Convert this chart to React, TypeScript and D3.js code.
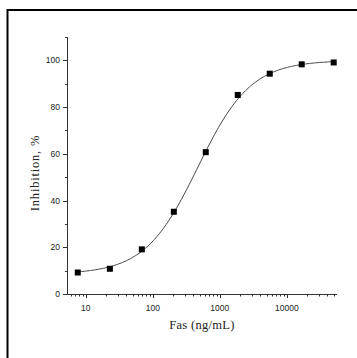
import React, { useRef, useEffect } from "react";
import * as d3 from "d3";

// Fas concentrations (ng/mL), 3-fold dilutions
const concentrations = [7.6, 22.9, 68.6, 206, 617, 1852, 5556, 16667, 50000];
// Inhibition, %
const inhibition = [9.2, 10.8, 19.1, 35.2, 60.7, 85.2, 94.3, 98.3, 99.1];
const yTicks = [0, 20, 40, 60, 80, 100];
const xTicks = [10, 100, 1000, 10000];
// four-parameter logistic fit
const fit = { bottom: 8.5, top: 100, ic50: 470, hill: 1.1 };

const App: React.FC = () => {
    const svgRef = useRef<SVGSVGElement | null>(null);

    useEffect(() => {
        if (!svgRef.current) return;
        const width = 357;
        const height = 358;
        const left = 67, right = 337, top = 37, bottom = 294;

        const svg = d3.select(svgRef.current);
        svg.selectAll("*").remove();

        const x = d3.scaleLog().domain([5.25, 56000]).range([left, right]);
        const y = d3.scaleLinear().domain([0, 110]).range([bottom, top]);

        // frame (top and left edges)
        svg.append("path")
            .attr("d", `M7.5,${height} L7.5,10 L${width},10`)
            .attr("fill", "none")
            .attr("stroke", "#000")
            .attr("stroke-width", 2);

        const tickFont = "'Liberation Sans', Arial, sans-serif";
        const titleFont = "'Liberation Serif', 'Times New Roman', serif";

        // y axis
        const yAxis = svg.append("g").attr("stroke", "#333").attr("stroke-width", 1);
        yAxis.append("line")
            .attr("x1", left + 0.5).attr("x2", left + 0.5)
            .attr("y1", top).attr("y2", bottom + 0.5);
        d3.range(0, 111, 10).forEach(v => {
            const major = v % 20 === 0;
            yAxis.append("line")
                .attr("x1", left - (major ? 4 : 2)).attr("x2", left)
                .attr("y1", Math.round(y(v)) + 0.5).attr("y2", Math.round(y(v)) + 0.5);
        });
        svg.append("g").selectAll("text").data(yTicks).join("text")
            .attr("x", left - 7)
            .attr("y", d => y(d) + 3)
            .attr("text-anchor", "end")
            .attr("font-family", tickFont)
            .attr("font-size", 8.5)
            .attr("fill", "#222")
            .text(d => d);

        // x axis
        const xAxis = svg.append("g").attr("stroke", "#333").attr("stroke-width", 1);
        xAxis.append("line")
            .attr("x1", left).attr("x2", right)
            .attr("y1", bottom + 0.5).attr("y2", bottom + 0.5);
        const minor: number[] = [];
        for (let e = 0; e <= 4; e++) {
            for (let m = 1; m <= 9; m++) {
                const v = m * Math.pow(10, e);
                if (v >= 5.25 && v <= 56000) minor.push(v);
            }
        }
        minor.forEach(v => {
            const major = xTicks.includes(v);
            xAxis.append("line")
                .attr("x1", Math.round(x(v)) + 0.5).attr("x2", Math.round(x(v)) + 0.5)
                .attr("y1", bottom).attr("y2", bottom + (major ? 4 : 2.5));
        });
        svg.append("g").selectAll("text").data(xTicks).join("text")
            .attr("x", d => x(d))
            .attr("y", bottom + 17)
            .attr("text-anchor", "middle")
            .attr("font-family", tickFont)
            .attr("font-size", 8.5)
            .attr("fill", "#222")
            .text(d => d);

        // axis titles
        svg.append("text")
            .attr("x", 202)
            .attr("y", 329)
            .attr("text-anchor", "middle")
            .attr("font-family", titleFont)
            .attr("font-size", 12.5)
            .attr("letter-spacing", 0.3)
            .attr("fill", "#222")
            .text("Fas (ng/mL)");
        svg.append("text")
            .attr("transform", `translate(39,173) rotate(-90)`)
            .attr("text-anchor", "middle")
            .attr("font-family", titleFont)
            .attr("font-size", 12.5)
            .attr("letter-spacing", 0.8)
            .attr("fill", "#222")
            .text("Inhibition, %");

        // fitted curve
        const logistic = (c: number) =>
            fit.bottom + (fit.top - fit.bottom) / (1 + Math.pow(fit.ic50 / c, fit.hill));
        const [c0, c1] = d3.extent(concentrations) as [number, number];
        const curveX = d3.range(0, 201).map(i => c0 * Math.pow(c1 / c0, i / 200));
        svg.append("path")
            .attr("fill", "none")
            .attr("stroke", "#444")
            .attr("stroke-width", 1)
            .attr("d", d3.line<number>().x(d => x(d)).y(d => y(logistic(d)))(curveX) || "");

        // data markers
        svg.append("g").selectAll("rect").data(concentrations).join("rect")
            .attr("x", d => x(d) - 3)
            .attr("y", (_, i) => y(inhibition[i]) - 3)
            .attr("width", 6)
            .attr("height", 6)
            .attr("fill", "#000");

        svg.attr("width", width).attr("height", height).attr("viewBox", `0 0 ${width} ${height}`);
    }, []);

    return <svg ref={svgRef} style={{ position: "absolute", left: 0, top: 0, background: "#fff" }} />;
};

export default App;
